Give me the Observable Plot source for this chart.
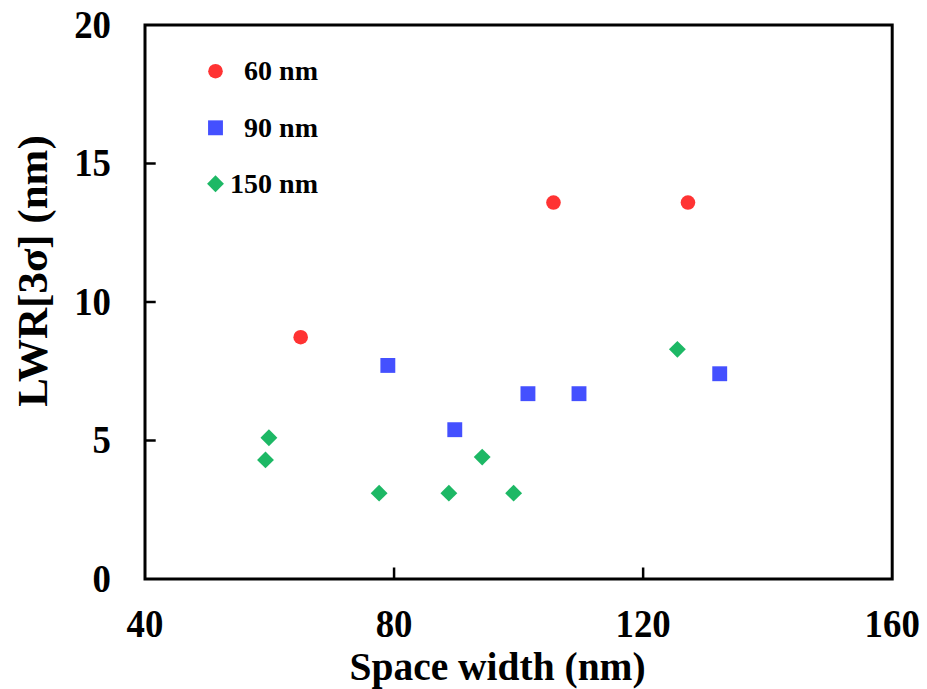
<!DOCTYPE html>
<html><head><meta charset="utf-8">
<script src="https://cdn.jsdelivr.net/npm/d3@7"></script>
<script src="https://cdn.jsdelivr.net/npm/@observablehq/plot@0.6"></script>
<style>body{margin:0;background:#fff} svg{display:block}</style>
</head><body><div id="chart"></div>
<script>
// Data
const seriesNames = ["60 nm", "90 nm", "150 nm"];
const x60 = [65.0, 105.6, 127.2];
const y60 = [8.73, 13.59, 13.59];
const x90 = [79.0, 89.75, 101.5, 109.7, 132.3];
const y90 = [7.71, 5.39, 6.69, 6.69, 7.41];
const x150 = [59.35, 59.9, 77.6, 88.8, 94.15, 99.2, 125.5];
const y150 = [4.30, 5.10, 3.10, 3.10, 4.40, 3.10, 8.29];
const xTicks = [40, 80, 120, 160];
const yTicks = [0, 5, 10, 15, 20];
const xTitle = "Space width (nm)";
const yTitle = "LWR[3σ] (nm)";

// Styles
const colors = ["#ff3333", "#4450ff", "#1db865"];
const symbols = ["circle", "square", "diamond2"];
const radii = [7.3, 8.4, 7.6];
const font = "'Liberation Serif', 'Times New Roman', serif";

const series = [[x60, y60], [x90, y90], [x150, y150]].map(([xs, ys], i) =>
  xs.map((x, j) => ({x, y: ys[j], s: seriesNames[i]})));

const marks = [
  Plot.frame({stroke: "black", strokeWidth: 3}),
  Plot.ruleX(xTicks.slice(1, -1), {insetTop: 543, strokeWidth: 2.5}),
  Plot.ruleY(yTicks.slice(1, -1), {insetRight: 736, strokeWidth: 2.5}),
  Plot.axisX({ticks: xTicks, tickSize: 0, tickPadding: 30, fontSize: 40, fontWeight: "bold", label: null}),
  Plot.axisY({ticks: yTicks, tickSize: 0, tickPadding: 34, fontSize: 40, fontWeight: "bold", label: null}),
  Plot.text([xTitle], {frameAnchor: "bottom", dy: 101, dx: -21, fontSize: 41, fontWeight: "bold", textAnchor: "middle"}),
  Plot.text([yTitle], {frameAnchor: "left", rotate: -90, dx: -111.5, dy: -31, fontSize: 43, fontWeight: "bold", textAnchor: "middle"})
];

series.forEach((data, i) => {
  marks.push(Plot.dot(data, {x: "x", y: "y", r: radii[i], symbol: symbols[i], fill: colors[i], stroke: "none"}));
});

const legendDy = [46.2, 102.8, 158.8];
seriesNames.forEach((name, i) => {
  marks.push(Plot.dot([name], {frameAnchor: "top-left", dx: 70.5, dy: legendDy[i], r: radii[i], symbol: symbols[i], fill: colors[i], stroke: "none"}));
  marks.push(Plot.text([name], {frameAnchor: "top-left", dx: 173, dy: legendDy[i], textAnchor: "end", lineAnchor: "middle", fontSize: 28, fontWeight: "bold"}));
});

const chart = Plot.plot({
  width: 927,
  height: 689,
  marginLeft: 144.5,
  marginRight: 35.3,
  marginTop: 24.5,
  marginBottom: 110.5,
  style: {fontFamily: font, color: "black", background: "white"},
  x: {domain: [40, 160]},
  y: {domain: [0, 20]},
  marks
});
document.getElementById("chart").appendChild(chart);

// narrow the glyphs horizontally (reference text is slightly condensed)
const tickStrings = new Set([...xTicks, ...yTicks].map(String));
d3.select(chart).selectAll("text").each(function() {
  const s = this.textContent;
  let factor = null, target = null;
  if (s === xTitle) target = 296;
  else if (tickStrings.has(s)) factor = 0.92;
  if (factor === null && target === null) return;
  const w = this.getComputedTextLength();
  if (!(w > 0)) return;
  const len = target !== null ? Math.min(w, target) : w * factor;
  this.setAttribute("textLength", len.toFixed(2));
  this.setAttribute("lengthAdjust", "spacingAndGlyphs");
});
</script>
</body></html>
